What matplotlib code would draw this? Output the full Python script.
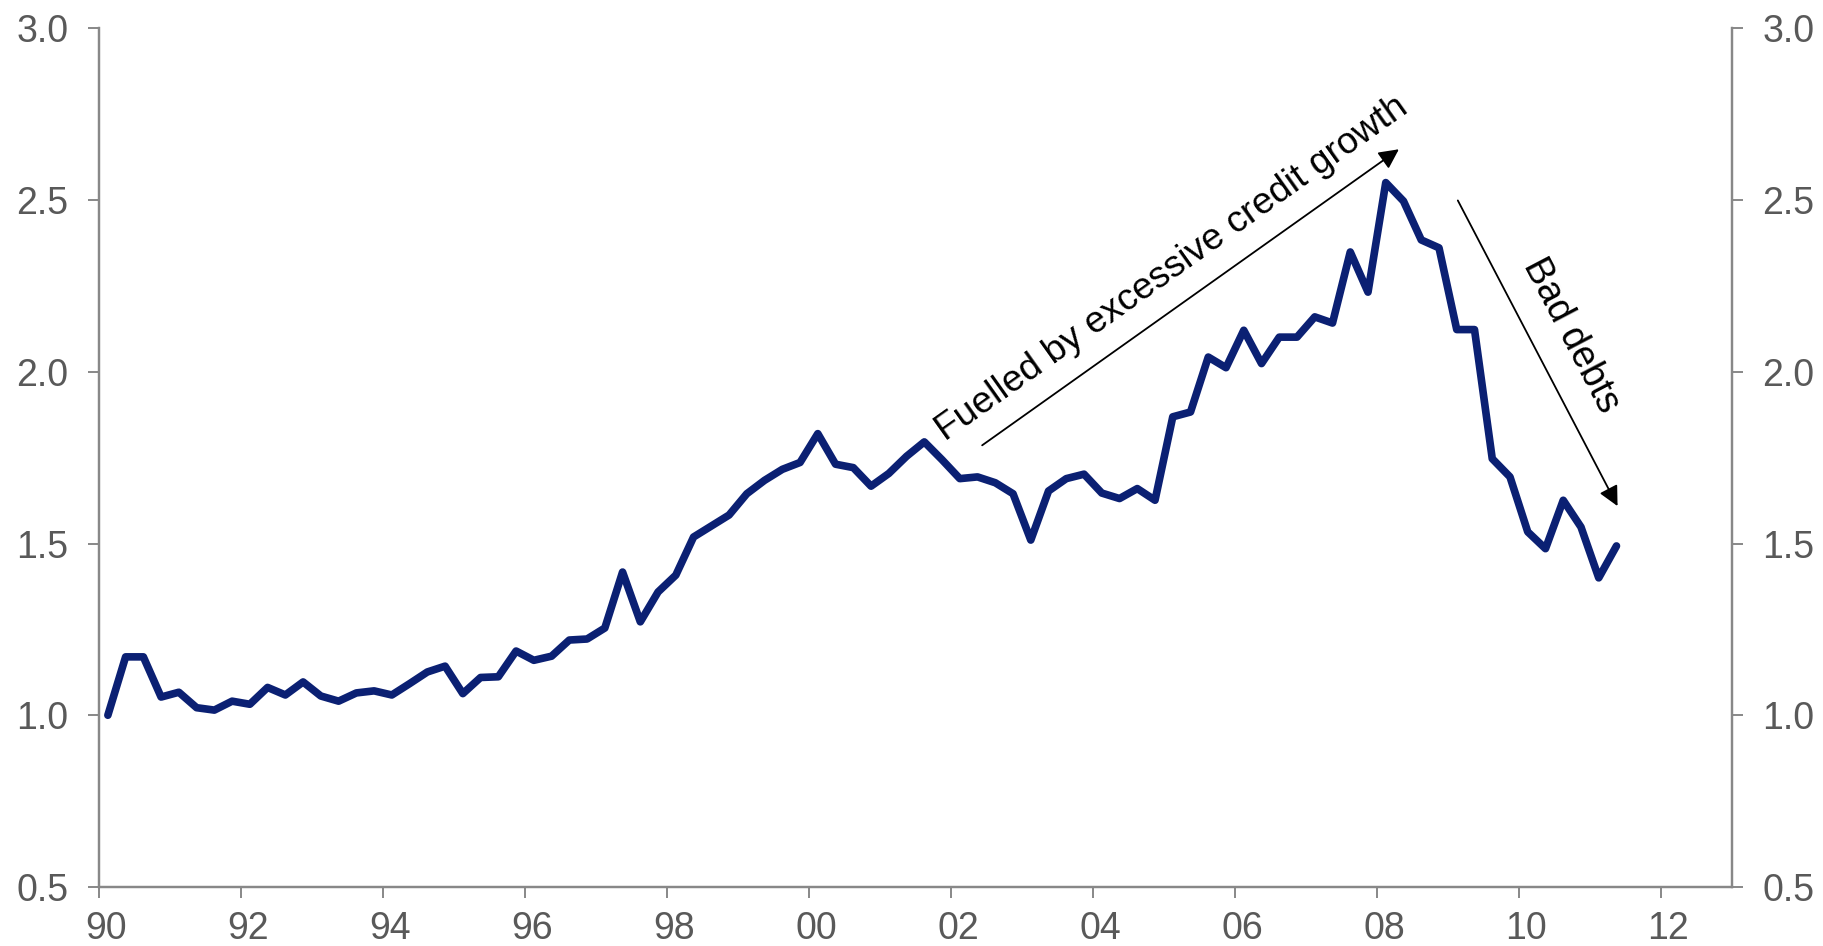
import numpy as np
import matplotlib.pyplot as plt
import matplotlib.transforms as mtransforms

plt.rcParams['font.family'] = ['Liberation Sans', 'DejaVu Sans']

# quarterly ratio, Q1 1990 to Q2 2011
values = [1.00, 1.17, 1.17, 1.053, 1.067, 1.022, 1.015, 1.041, 1.032, 1.081,
          1.059, 1.097, 1.056, 1.041, 1.065, 1.071, 1.059, 1.092, 1.126, 1.143,
          1.063, 1.110, 1.112, 1.187, 1.160, 1.172, 1.219, 1.222, 1.254, 1.417,
          1.272, 1.359, 1.408, 1.519, 1.551, 1.583, 1.645, 1.684, 1.716, 1.736,
          1.820, 1.731, 1.721, 1.667, 1.704, 1.754, 1.796, 1.744, 1.689, 1.694,
          1.677, 1.645, 1.510, 1.653, 1.689, 1.702, 1.647, 1.631, 1.660, 1.626,
          1.869, 1.883, 2.043, 2.012, 2.121, 2.024, 2.101, 2.101, 2.160, 2.142,
          2.349, 2.232, 2.551, 2.497, 2.384, 2.361, 2.123, 2.123, 1.747, 1.694,
          1.534, 1.485, 1.626, 1.548, 1.400, 1.493]
start_year = 1990
years = start_year + 0.125 + 0.25 * np.arange(len(values))

xticks = list(range(1990, 2013, 2))
xlabels = ['90', '92', '94', '96', '98', '00', '02', '04', '06', '08', '10', '12']
yticks = [0.5, 1.0, 1.5, 2.0, 2.5, 3.0]

grey = '#888888'
label_grey = '#595959'

fig = plt.figure(figsize=(18.23, 9.46), dpi=100)
ax = fig.add_axes([0.0543, 0.0624, 0.8957, 0.9076])
ax.plot(years, values, color='#0B2073', lw=5.5, solid_joinstyle='round',
        solid_capstyle='round', zorder=3)

ax.set_xlim(1990, 2013)
ax.set_ylim(0.5, 3.0)
ax.set_xticks(xticks)
ax.set_xticklabels(xlabels)
ax.set_yticks(yticks)
ax.set_yticklabels([f'{v:.1f}' for v in yticks])

ax2 = ax.twinx()
ax2.set_ylim(0.5, 3.0)
ax2.set_yticks(yticks)
ax2.set_yticklabels([f'{v:.1f}' for v in yticks])

for a in (ax, ax2):
    a.spines['top'].set_visible(False)
    for s in ('left', 'right', 'bottom'):
        a.spines[s].set_color(grey)
        a.spines[s].set_linewidth(1.6)
    a.tick_params(axis='both', colors=grey, labelcolor=label_grey,
                  labelsize=27, length=8, width=1.4, direction='out')
ax.tick_params(axis='y', pad=14)
ax2.tick_params(axis='y', pad=14)
ax.tick_params(axis='x', pad=9)

# shift the year labels a little to the right of their ticks
offset = mtransforms.ScaledTranslation(7 / 100, 0, fig.dpi_scale_trans)
for lbl in ax.get_xticklabels():
    lbl.set_transform(lbl.get_transform() + offset)

# annotations
ax.annotate('', xy=(2008.31, 2.648), xytext=(2002.44, 1.786),
            arrowprops=dict(arrowstyle='-|>', color='black', lw=1.3,
                            mutation_scale=30, shrinkA=0, shrinkB=0))
ax.text(2005.12, 2.30, 'Fuelled by excessive credit growth', fontsize=26.8,
        rotation=35.4, ha='center', va='center', rotation_mode='anchor')

ax.annotate('', xy=(2011.39, 1.609), xytext=(2009.14, 2.499),
            arrowprops=dict(arrowstyle='-|>', color='black', lw=1.3,
                            mutation_scale=30, shrinkA=0, shrinkB=0))
ax.text(2010.74, 2.107, 'Bad debts', fontsize=27, rotation=-62.4,
        ha='center', va='center', rotation_mode='anchor')

fig.savefig('out.png', dpi=100)
